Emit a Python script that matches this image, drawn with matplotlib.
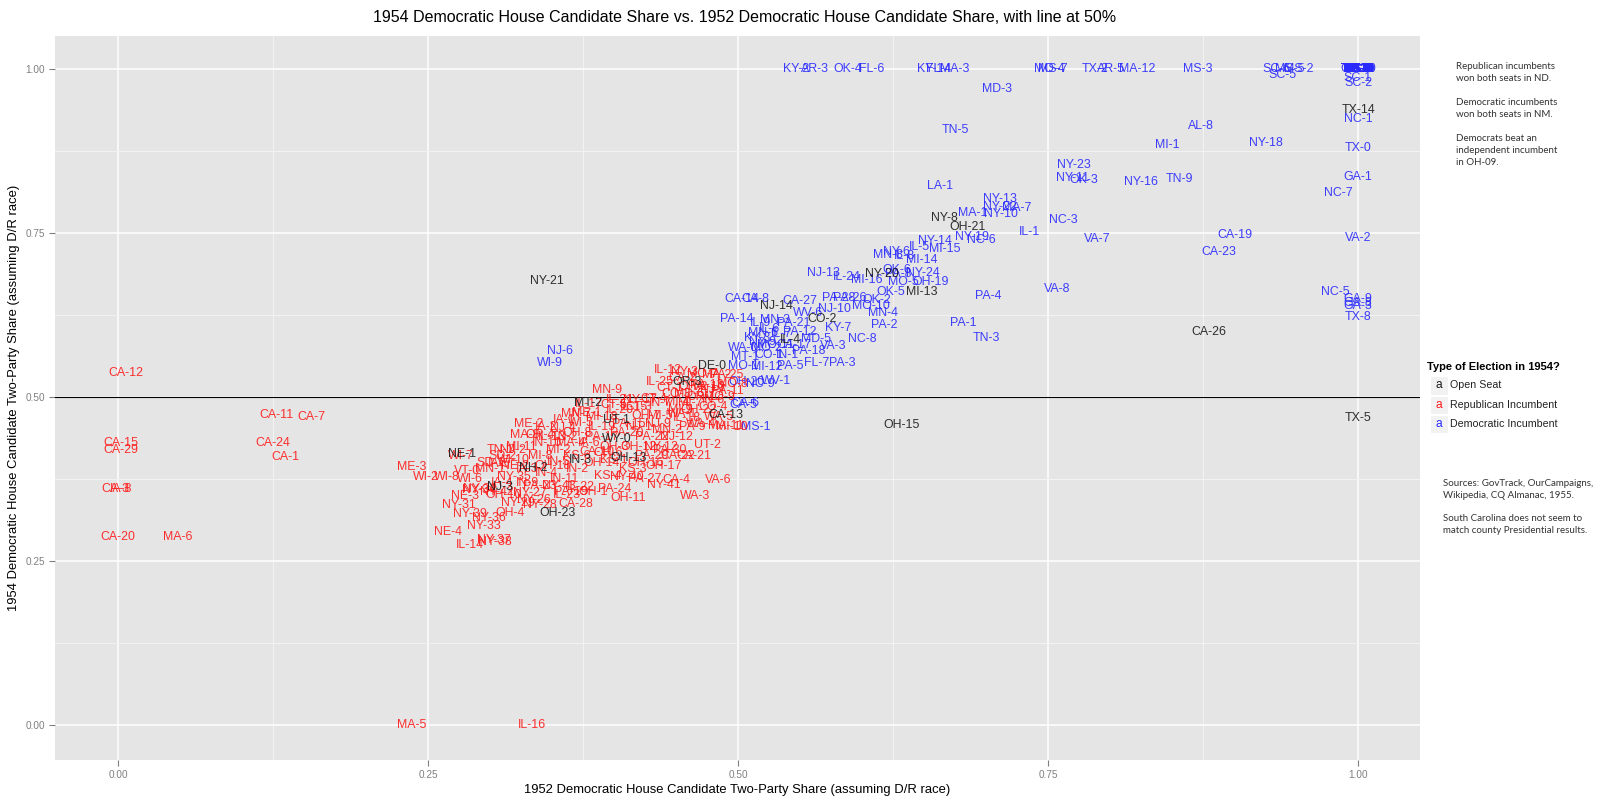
import matplotlib
matplotlib.use("Agg")
import matplotlib.pyplot as plt
from matplotlib.patches import Rectangle

plt.rcParams["font.family"] = ["Liberation Sans", "DejaVu Sans"]

# ---- data: 1952 share (x) vs 1954 share (y), one set per election type ----
open_labels = ["NY-21", "NY-8", "OH-21", "NJ-14", "NY-20", "MI-13", "CO-2", "IL-4",
               "DE-0", "OR-3", "MT-2", "UT-1", "WY-0", "OH-13", "OH-23", "NE-1",
               "NH-2", "IN-3", "CA-13", "NJ-3", "OH-15", "CA-26", "TX-14", "TX-5"]
open_x = [0.346, 0.666, 0.685, 0.531, 0.616, 0.648, 0.568, 0.542,
          0.479, 0.459, 0.379, 0.402, 0.402, 0.412, 0.354, 0.277,
          0.335, 0.373, 0.490, 0.308, 0.632, 0.880, 1.000, 1.000]
open_y = [0.677, 0.774, 0.759, 0.639, 0.688, 0.661, 0.620, 0.587,
          0.548, 0.524, 0.492, 0.465, 0.436, 0.407, 0.323, 0.414,
          0.393, 0.404, 0.473, 0.363, 0.458, 0.599, 0.938, 0.469]

rep_labels = ["CA-12", "CA-15", "CA-29", "CA-3", "IA-8", "CA-20", "MA-6", "CA-11",
              "CA-7", "CA-24", "CA-1", "ME-3", "WI-2", "WI-8", "MA-5", "IL-16",
              "NE-4", "IL-14", "NY-37", "NY-38", "NY-36", "NY-33", "NY-39", "OH-4",
              "NY-31", "NE-3", "NY-28", "NY-29", "CA-28", "OH-11", "WA-3", "NY-41",
              "CA-4", "VA-6", "IL-23", "OH-1", "IL-22", "NY-32", "OH-10", "NY-27",
              "MN-9", "IL-21", "NY-17", "ME-1", "MN-7", "WI-5", "ME-2", "MA-8",
              "OR-4", "NJ-4", "IN-10", "MA-4", "TN-1", "NJ-2", "WI-7", "CA-10",
              "IN-5", "IA-5", "WI-10", "VT-0", "MN-1", "WI-6", "NY-34", "NY-40",
              "NY-35", "IL-12", "IL-25", "NY-3", "MO-7", "MA-2", "PA-25", "PA-11",
              "IN-6", "PA-13", "OH-2", "NJ-7", "MI-4", "IN-7", "MI-7", "OH-22",
              "MI-9", "MI-10", "MA-11", "PA-9", "IL-18", "UT-2", "CA-21", "CA-22",
              "NY-12", "PA-15", "MI-5", "OH-7", "MN-2", "IL-20", "IL-15", "PA-17",
              "PA-20", "PA-22", "OH-3", "OH-12", "OH-14", "OH-16", "OH-17", "IN-2",
              "IN-4", "IN-9", "IN-11", "IL-13", "IL-17", "IL-19", "IA-1", "IA-2",
              "IA-3", "IA-4", "IA-6", "KS-1", "KS-3", "KS-4", "KS-6", "MI-2",
              "MI-8", "MI-11", "MI-18", "NJ-1", "NJ-9", "NJ-12", "NY-26", "NY-42",
              "NY-43", "PA-19", "PA-23", "PA-24", "PA-27", "PA-29", "PA-30", "NE-2",
              "SD-1", "SD-2", "WA-1", "WA-4", "WA-5", "OR-1", "CO-3", "CO-4",
              "CT-1", "CT-3", "CT-4", "CT-5", "CA-2", "MD-6", "MO-8", "MO-9",
              "VA-10", "OH-6", "OH-8", "OH-18", "TN-2"]
rep_x = [0.006, 0.002, 0.002, -0.002, 0.002, 0.000, 0.048, 0.128,
         0.156, 0.125, 0.135, 0.237, 0.248, 0.265, 0.237, 0.334,
         0.266, 0.284, 0.303, 0.304, 0.299, 0.295, 0.284, 0.316,
         0.275, 0.280, 0.340, 0.322, 0.369, 0.411, 0.465, 0.440,
         0.450, 0.484, 0.362, 0.383, 0.373, 0.292, 0.311, 0.332,
         0.394, 0.405, 0.421, 0.378, 0.369, 0.373, 0.331, 0.328,
         0.340, 0.359, 0.346, 0.365, 0.308, 0.318, 0.276, 0.386,
         0.355, 0.307, 0.319, 0.281, 0.300, 0.284, 0.291, 0.410,
         0.319, 0.443, 0.437, 0.457, 0.471, 0.483, 0.491, 0.491,
         0.480, 0.475, 0.464, 0.480, 0.451, 0.437, 0.461, 0.468,
         0.453, 0.495, 0.490, 0.463, 0.459, 0.475, 0.464, 0.451,
         0.438, 0.412, 0.437, 0.426, 0.443, 0.405, 0.416, 0.390,
         0.410, 0.430, 0.400, 0.420, 0.390, 0.425, 0.440, 0.370,
         0.345, 0.330, 0.360, 0.350, 0.380, 0.390, 0.360, 0.345,
         0.330, 0.310, 0.380, 0.400, 0.415, 0.395, 0.370, 0.355,
         0.340, 0.325, 0.390, 0.420, 0.435, 0.450, 0.335, 0.305,
         0.355, 0.365, 0.340, 0.400, 0.425, 0.430, 0.445, 0.320,
         0.300, 0.310, 0.455, 0.470, 0.485, 0.470, 0.450, 0.480,
         0.445, 0.420, 0.432, 0.400, 0.455, 0.460, 0.495, 0.485,
         0.476, 0.395, 0.370, 0.350, 0.360]
rep_y = [0.537, 0.430, 0.419, 0.360, 0.360, 0.287, 0.287, 0.473,
         0.470, 0.430, 0.409, 0.394, 0.379, 0.379, 0.000, 0.000,
         0.295, 0.275, 0.283, 0.279, 0.316, 0.304, 0.322, 0.323,
         0.336, 0.349, 0.336, 0.339, 0.337, 0.346, 0.350, 0.366,
         0.374, 0.374, 0.351, 0.356, 0.364, 0.361, 0.351, 0.354,
         0.511, 0.496, 0.496, 0.476, 0.475, 0.461, 0.460, 0.443,
         0.443, 0.453, 0.430, 0.430, 0.420, 0.420, 0.410, 0.417,
         0.402, 0.399, 0.404, 0.388, 0.390, 0.375, 0.359, 0.379,
         0.379, 0.541, 0.524, 0.538, 0.536, 0.534, 0.534, 0.509,
         0.496, 0.519, 0.516, 0.511, 0.493, 0.491, 0.491, 0.481,
         0.481, 0.455, 0.456, 0.455, 0.468, 0.427, 0.411, 0.411,
         0.425, 0.460, 0.471, 0.471, 0.450, 0.481, 0.486, 0.440,
         0.445, 0.440, 0.425, 0.425, 0.400, 0.400, 0.395, 0.390,
         0.385, 0.370, 0.375, 0.440, 0.490, 0.455, 0.465, 0.455,
         0.390, 0.370, 0.430, 0.405, 0.390, 0.380, 0.410, 0.420,
         0.410, 0.425, 0.470, 0.455, 0.460, 0.440, 0.343, 0.355,
         0.365, 0.355, 0.365, 0.360, 0.375, 0.410, 0.420, 0.395,
         0.400, 0.410, 0.475, 0.460, 0.470, 0.500, 0.505, 0.485,
         0.515, 0.485, 0.497, 0.488, 0.530, 0.505, 0.520, 0.500,
         0.516, 0.415, 0.445, 0.395, 0.440]

dem_labels = ["KY-2", "AR-3", "OK-4", "FL-6", "KY-1", "FL-4", "MA-3", "MO-4",
              "MS-7", "TX-2", "AR-5", "MA-12", "MS-3", "SC-6", "MS-5", "MS-2",
              "SC-5", "SC-1", "SC-2", "AL-1", "AL-2", "AL-3", "AL-4", "AL-5",
              "AL-6", "AL-7", "AL-9", "AR-1", "AR-2", "AR-4", "AR-6", "FL-2",
              "FL-3", "GA-2", "GA-4", "GA-5", "GA-6", "GA-7", "GA-10", "LA-2",
              "LA-3", "LA-4", "LA-5", "LA-6", "LA-7", "LA-8", "MS-4", "MS-6",
              "NC-2", "NC-4", "SC-3", "SC-4", "TX-1", "TX-3", "TX-4", "TX-6",
              "TX-7", "TX-9", "TX-10", "TX-11", "TX-12", "TX-13", "TX-15", "TX-16",
              "TX-17", "TX-19", "TX-20", "TX-21", "VA-4", "MD-3", "TN-5", "AL-8",
              "MI-1", "NY-18", "NC-1", "TX-0", "GA-1", "NC-7", "NY-23", "NY-11",
              "OK-3", "NY-16", "TN-9", "LA-1", "NY-13", "NY-22", "MA-7", "MA-1",
              "NY-10", "NC-3", "IL-1", "VA-7", "CA-19", "CA-23", "VA-2", "NY-14",
              "NY-19", "NC-6", "IL-5", "MI-15", "MN-8", "NY-6", "IL-8", "MI-14",
              "NJ-13", "IL-24", "MI-16", "PA-8", "OK-6", "NY-24", "MO-5", "OH-19",
              "OK-5", "PA-4", "VA-8", "NC-5", "GA-9", "GA-8", "GA-3", "TX-8",
              "PA-1", "TN-3", "PA-2", "NC-8", "MN-4", "MO-10", "PA-26", "PA-28",
              "OK-2", "NJ-10", "WV-6", "CA-14", "CA-8", "CA-27", "PA-14", "IL-9",
              "MN-3", "PA-21", "KY-7", "MD-5", "VA-3", "PA-18", "WA-0", "MO-2",
              "MT-1", "PA-5", "FL-7", "PA-3", "MO-1", "MI-12", "WV-1", "NC-9",
              "OH-20", "CA-6", "CA-5", "MS-1", "NJ-6", "WI-9", "IL-6", "IL-7",
              "MN-6", "PA-12", "NY-9", "MO-11", "CA-17", "KY-3", "IN-1", "CO-1"]
dem_x = [0.547, 0.562, 0.588, 0.608, 0.655, 0.662, 0.675, 0.751,
         0.754, 0.788, 0.801, 0.822, 0.871, 0.934, 0.945, 0.952,
         0.939, 1.000, 1.000, 1.000, 1.000, 1.000, 1.000, 1.000,
         1.000, 1.000, 1.000, 1.000, 1.000, 1.000, 1.000, 1.000,
         1.000, 1.000, 1.000, 1.000, 1.000, 1.000, 1.000, 1.000,
         1.000, 1.000, 1.000, 1.000, 1.000, 1.000, 1.000, 1.000,
         1.000, 1.000, 1.000, 1.000, 1.000, 1.000, 1.000, 1.000,
         1.000, 1.000, 1.000, 1.000, 1.000, 1.000, 1.000, 1.000,
         1.000, 1.000, 1.000, 1.000, 1.000, 0.709, 0.675, 0.873,
         0.846, 0.926, 1.000, 1.000, 1.000, 0.984, 0.771, 0.770,
         0.779, 0.825, 0.856, 0.663, 0.711, 0.711, 0.725, 0.689,
         0.712, 0.762, 0.735, 0.790, 0.901, 0.888, 1.000, 0.659,
         0.689, 0.696, 0.646, 0.667, 0.621, 0.628, 0.634, 0.648,
         0.569, 0.588, 0.604, 0.629, 0.628, 0.649, 0.633, 0.655,
         0.623, 0.702, 0.757, 0.982, 1.000, 1.000, 1.000, 1.000,
         0.682, 0.700, 0.618, 0.600, 0.617, 0.607, 0.590, 0.581,
         0.612, 0.578, 0.556, 0.503, 0.514, 0.550, 0.499, 0.518,
         0.530, 0.545, 0.581, 0.563, 0.577, 0.557, 0.504, 0.523,
         0.506, 0.542, 0.563, 0.584, 0.504, 0.523, 0.531, 0.518,
         0.507, 0.506, 0.504, 0.514, 0.356, 0.348, 0.525, 0.535,
         0.520, 0.550, 0.520, 0.530, 0.545, 0.515, 0.540, 0.525]
dem_y = [1.000, 1.000, 1.000, 1.000, 1.000, 1.000, 1.000, 1.000,
         1.000, 1.000, 1.000, 1.000, 1.000, 1.000, 1.000, 1.000,
         0.991, 0.987, 0.979, 1.000, 1.000, 1.000, 1.000, 1.000,
         1.000, 1.000, 1.000, 1.000, 1.000, 1.000, 1.000, 1.000,
         1.000, 1.000, 1.000, 1.000, 1.000, 1.000, 1.000, 1.000,
         1.000, 1.000, 1.000, 1.000, 1.000, 1.000, 1.000, 1.000,
         1.000, 1.000, 1.000, 1.000, 1.000, 1.000, 1.000, 1.000,
         1.000, 1.000, 1.000, 1.000, 1.000, 1.000, 1.000, 1.000,
         1.000, 1.000, 1.000, 1.000, 1.000, 0.970, 0.908, 0.914,
         0.885, 0.888, 0.924, 0.880, 0.836, 0.812, 0.854, 0.834,
         0.832, 0.829, 0.833, 0.822, 0.803, 0.791, 0.788, 0.781,
         0.779, 0.770, 0.752, 0.741, 0.747, 0.721, 0.743, 0.739,
         0.744, 0.740, 0.730, 0.726, 0.717, 0.722, 0.715, 0.709,
         0.690, 0.684, 0.679, 0.688, 0.694, 0.690, 0.676, 0.676,
         0.660, 0.655, 0.665, 0.660, 0.650, 0.644, 0.640, 0.623,
         0.614, 0.590, 0.611, 0.589, 0.628, 0.640, 0.651, 0.651,
         0.648, 0.634, 0.628, 0.650, 0.650, 0.647, 0.619, 0.613,
         0.618, 0.613, 0.605, 0.589, 0.579, 0.571, 0.576, 0.575,
         0.562, 0.548, 0.552, 0.552, 0.548, 0.547, 0.525, 0.521,
         0.524, 0.491, 0.489, 0.455, 0.571, 0.553, 0.604, 0.596,
         0.598, 0.600, 0.585, 0.580, 0.580, 0.590, 0.565, 0.565]

categories = ["Open Seat", "Republican Incumbent", "Democratic Incumbent"]
cat_colors = ["#1a1a1a", "#ff1a1a", "#2a2aff"]
ref_line = 0.5
ticks = [0.0, 0.25, 0.5, 0.75, 1.0]
minor_ticks = [0.125, 0.375, 0.625, 0.875]

note_top = ("Republican incumbents\nwon both seats in ND.\n\n"
            "Democratic incumbents\nwon both seats in NM.\n\n"
            "Democrats beat an\nindependent incumbent\nin OH-09.")
note_bottom = ("Sources: GovTrack, OurCampaigns,\nWikipedia, CQ Almanac, 1955.\n\n"
               "South Carolina does not seem to\nmatch county Presidential results.")

W, H = 1600, 802


def fx(px):
    return px / W


def fy(py):
    return 1 - py / H


def main():
    fig = plt.figure(figsize=(16, 8.02), dpi=100)
    ax = fig.add_axes([fx(55), fy(760), fx(1420) - fx(55), fy(36) - fy(760)])
    ax.set_facecolor("#E5E5E5")
    for s in ax.spines.values():
        s.set_visible(False)
    ax.set_xlim(-0.051, 1.050)
    ax.set_ylim(-0.053, 1.051)
    ax.set_xticks(ticks)
    ax.set_yticks(ticks)
    ax.set_xticklabels([f"{t:.2f}" for t in ticks])
    ax.set_yticklabels([f"{t:.2f}" for t in ticks])
    ax.set_xticks(minor_ticks, minor=True)
    ax.set_yticks(minor_ticks, minor=True)
    ax.tick_params(which="major", colors="#7F7F7F", labelsize=7.2,
                   length=4, width=0.8, pad=3)
    ax.tick_params(which="minor", length=0)
    ax.grid(which="major", color="white", lw=1.1)
    ax.grid(which="minor", color="#F2F2F2", lw=0.8)
    ax.set_axisbelow(True)

    ax.axhline(ref_line, color="black", lw=0.8, zorder=1)

    groups = [
        (dem_labels, dem_x, dem_y, cat_colors[2]),
        (rep_labels, rep_x, rep_y, cat_colors[1]),
        (open_labels, open_x, open_y, cat_colors[0]),
    ]
    for labels, xs, ys, col in groups:
        assert len(labels) == len(xs) == len(ys)
        for lab, x, y in zip(labels, xs, ys):
            ax.text(x, y, lab, color=col, fontsize=8.9, ha="center",
                    va="center", alpha=0.9, zorder=3)

    ax.set_xlabel("1952 Democratic House Candidate Two-Party Share (assuming D/R race)",
                  fontsize=9.4, labelpad=3)
    ax.set_ylabel("1954 Democratic House Candidate Two-Party Share (assuming D/R race)",
                  fontsize=9.4, labelpad=4)
    fig.text(fx(745), fy(17), "1954 Democratic House Candidate Share vs. 1952 "
             "Democratic House Candidate Share, with line at 50%",
             fontsize=11.5, ha="center", va="center")

    # legend drawn by hand to get the ggplot "a" keys
    fig.text(fx(1427), fy(367), "Type of Election in 1954?", fontsize=8,
             fontweight="bold", va="center", ha="left")
    for i, (name, col) in enumerate(zip(categories, cat_colors)):
        yc = 385.5 + i * 19.3
        fig.add_artist(Rectangle((fx(1430), fy(yc + 9.2)), fx(17.5), 18.4 / H,
                                 transform=fig.transFigure, facecolor="#F2F2F2",
                                 edgecolor="white", lw=0.8))
        fig.text(fx(1439), fy(yc), "a", color=col, fontsize=8.6,
                 ha="center", va="center")
        fig.text(fx(1450), fy(yc), name, fontsize=7.7, va="center", ha="left",
                 color="#222222")

    note_font = ["Lato", "DejaVu Sans"]
    fig.text(fx(1456), fy(62), note_top, fontsize=7, va="top", ha="left",
             family=note_font, color="#333333", linespacing=1.42)
    fig.text(fx(1443), fy(479), note_bottom, fontsize=7, va="top", ha="left",
             family=note_font, color="#333333", linespacing=1.38)

    fig.savefig("out.png", dpi=100, facecolor="white")


if __name__ == "__main__":
    main()
